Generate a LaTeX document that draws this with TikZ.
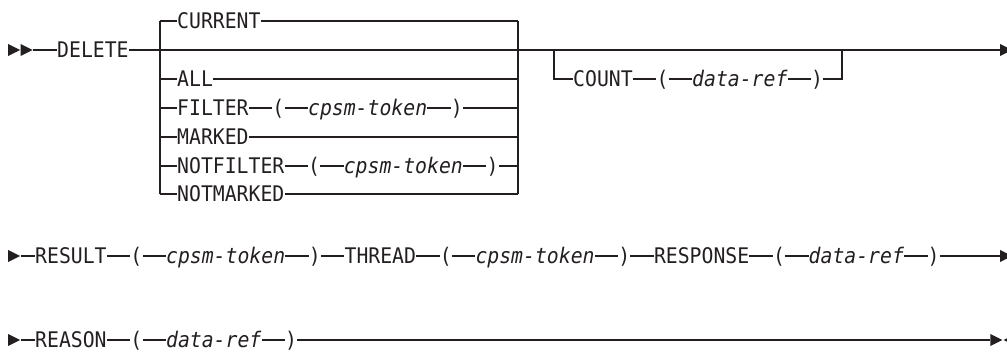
\documentclass[tikz,border=0pt]{standalone}
\usepackage{fontspec}
\newfontfamily\dia[FakeStretch=0.92]{DejaVu Sans Mono}
\usetikzlibrary{shapes.geometric}
\definecolor{ink}{RGB}{35,31,32}
\begin{document}
\begin{tikzpicture}[x=1pt,y=-1pt,
  kw/.style={font={\dia\fontsize{21.5}{22}\selectfont}, inner sep=0pt,
    text height=15.7pt, text depth=0pt, anchor=west, text=ink},
  var/.style={kw, font={\dia\itshape\fontsize{21.5}{22}\selectfont}},
  rail/.style={line width=1.3pt, draw=ink},
  tri/.style={isosceles triangle, isosceles triangle stretches, fill=ink,
    draw=none, inner sep=0pt, minimum width=12pt, minimum height=12pt, anchor=west}]
\useasboundingbox (0,0) rectangle (1007,352);
\clip (0,0) rectangle (1007,352);
\def\w{11.9}
% ---------- row 1 ----------
\node[tri] (s1) at (8,50) {};
\node[tri] (s2) at (20.5,50) {};
\node[kw] (delete) at (57,50) {DELETE};
\coordinate (gl0) at (160,21); \coordinate (gl6) at (160,194);
\coordinate (gr0) at (518,21); \coordinate (gr6) at (518,194);
\node[kw] (current) at (177,21) {CURRENT};
\node[kw] (all) at (177,79) {ALL};
\node[kw] (filter) at (177,108) {FILTER};
\node[kw] (fo) at ({177+8*\w},108) {(};
\node[var] (ftok) at ({177+11*\w},108) {cpsm-token};
\node[kw] (fc) at ({177+23*\w},108) {)};
\node[kw] (marked) at (177,137) {MARKED};
\node[kw] (notfilter) at (177,166) {NOTFILTER};
\node[kw] (nfo) at ({177+11*\w},166) {(};
\node[var] (nftok) at ({177+14*\w},166) {cpsm-token};
\node[kw] (nfc) at ({177+26*\w},166) {)};
\node[kw] (notmarked) at (177,194) {NOTMARKED};
\coordinate (cl) at (554,50); \coordinate (cr) at (842,50);
\node[kw] (count) at (573,79) {COUNT};
\node[kw] (co) at ({573+7*\w},79) {(};
\node[var] (cref) at ({573+10*\w},79) {data-ref};
\node[kw] (cc) at ({573+20*\w},79) {)};
\node[tri] (e1) at (1000,50) {};

\draw[rail] (s2.east) -- (delete.west);
\draw[rail] (delete.east) -- (e1.west);
\draw[rail] (gl0) -- (gl6);
\draw[rail] (gr0) -- (gr6);
\draw[rail] (gl0) -- (current.west);
\draw[rail] (current.east) -- (gr0);
\foreach \n in {all,filter,marked,notfilter,notmarked}
  \draw[rail] (\n.west -| gl0) -- (\n.west);
\foreach \n in {all,fc,marked,nfc,notmarked}
  \draw[rail] (\n.east) -- (\n.east -| gr0);
\foreach \a/\b in {filter/fo,fo/ftok,ftok/fc,notfilter/nfo,nfo/nftok,nftok/nfc,count/co,co/cref,cref/cc}
  \draw[rail] (\a.east) -- (\b.west);
\draw[rail] (cl) -- (count.west -| cl) -- (count.west);
\draw[rail] (cc.east) -- (cc.east -| cr) -- (cr);
% ---------- row 2 ----------
\node[tri] (s3) at (8,256) {};
\node[kw] (result) at (35,256) {RESULT};
\node[kw] (ro) at ({35+8*\w},256) {(};
\node[var] (rtok) at ({35+11*\w},256) {cpsm-token};
\node[kw] (rc) at ({35+23*\w},256) {)};
\node[kw] (thread) at ({35+26*\w},256) {THREAD};
\node[kw] (tho) at ({35+34*\w},256) {(};
\node[var] (ttok) at ({35+37*\w},256) {cpsm-token};
\node[kw] (thc) at ({35+49*\w},256) {)};
\node[kw] (response) at ({35+52*\w},256) {RESPONSE};
\node[kw] (rso) at ({35+62*\w},256) {(};
\node[var] (rsref) at ({35+65*\w},256) {data-ref};
\node[kw] (rsc) at ({35+75*\w},256) {)};
\node[tri] (e2) at (1000,256) {};
\foreach \a/\b in {s3/result,result/ro,ro/rtok,rtok/rc,rc/thread,thread/tho,tho/ttok,ttok/thc,thc/response,response/rso,rso/rsref,rsref/rsc,rsc/e2}
  \draw[rail] (\a.east) -- (\b.west);
% ---------- row 3 ----------
\node[tri] (s4) at (8,340) {};
\node[kw] (reason) at (35,340) {REASON};
\node[kw] (rno) at ({35+8*\w},340) {(};
\node[var] (rnref) at ({35+11*\w},340) {data-ref};
\node[kw] (rnc) at ({35+21*\w},340) {)};
\node[tri, anchor=apex] (e3) at (1003,340) {};
\node[tri, shape border rotate=180, anchor=apex] (e4) at (1003,340) {};
\foreach \a/\b in {s4/reason,reason/rno,rno/rnref,rnref/rnc,rnc/e3}
  \draw[rail] (\a.east) -- (\b.west);
\end{tikzpicture}
\end{document}
